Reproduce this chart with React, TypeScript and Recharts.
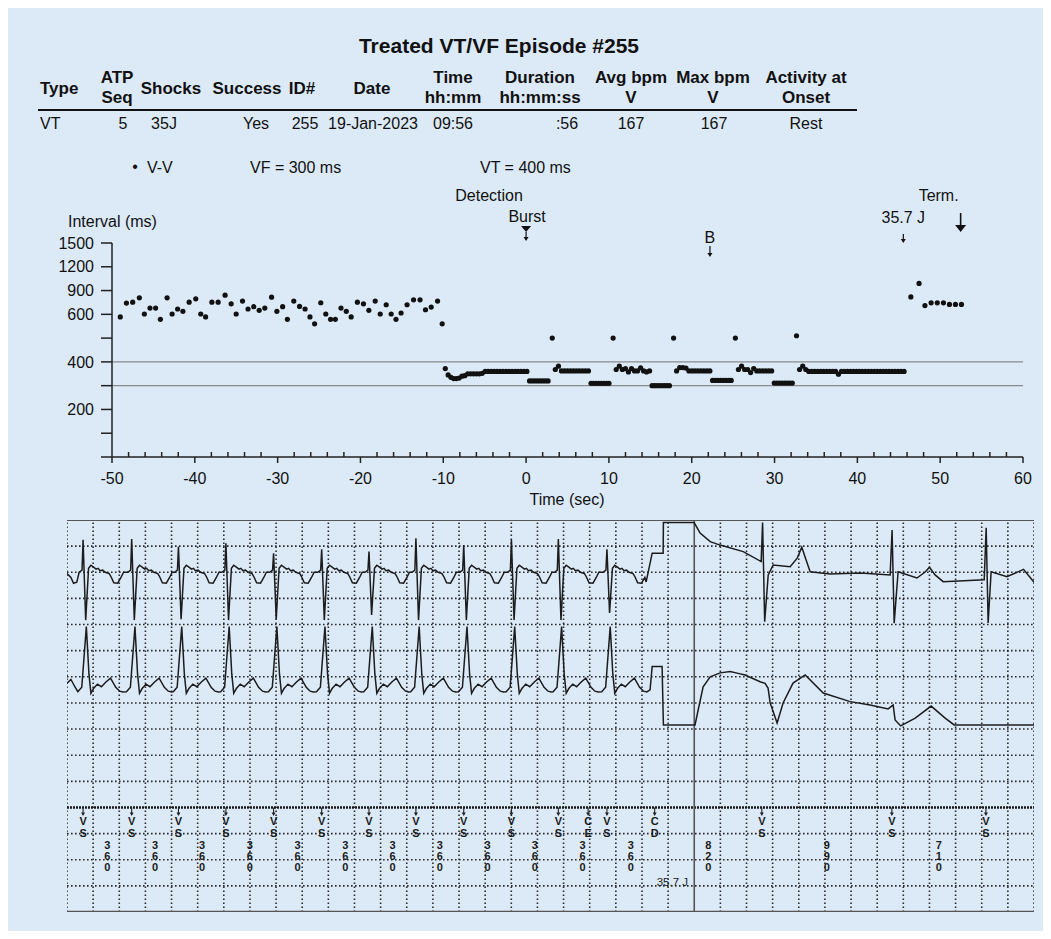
import React from "react";
import {
  ScatterChart,
  Scatter,
  ComposedChart,
  Line,
  XAxis,
  YAxis,
  ReferenceLine
} from "recharts";

const FONT = '"Liberation Sans", Arial, Helvetica, sans-serif';
const PANEL = "#dceaf8";
const INK = "#111";

// ---- episode summary table ----
const headerLine1 = ["", "ATP", "", "", "", "", "Time", "Duration", "Avg bpm", "Max bpm", "Activity at"];
const headerLine2 = ["", "Seq", "", "", "", "", "hh:mm", "hh:mm:ss", "V", "V", "Onset"];
const headerSingle = ["Type", "", "Shocks", "Success", "ID#", "Date", "", "", "", "", ""];
const rowValues = ["VT", "5", "35J", "Yes", "255", "19-Jan-2023", "09:56", ":56", "167", "167", "Rest"];
const headerCenters = [59, 117, 171, 247, 302, 372, 453, 540, 631, 713, 806];
const rowCenters = [52, 123, 164, 256, 305, 373, 453, 567, 631, 714, 806];

// ---- V-V intervals (ms), each one sensed after the previous: first at -49.0 s ----
const firstBeatTime = -49.0;
const vvIntervals = [
  // sinus before onset
  589, 742, 754, 808, 604, 679, 679, 579, 808, 604, 667, 638, 754, 796, 604, 589, 754, 754, 842, 733,
  604, 767, 667, 696, 650, 679, 817, 638, 696, 579, 767, 700, 667, 589, 560, 746, 604, 579, 579, 679,
  638, 589, 754, 733, 650, 767, 604, 721, 604, 579, 617, 721, 783, 783, 658, 692, 767, 560,
  // VT until detection
  372, 345, 335, 330, 330, 332, 340, 342, 350, 350, 350, 350, 350, 352,
  360, 360, 360, 360, 360, 360, 360, 360, 360, 360, 360, 360, 360, 360, 360,
  // burst 1
  320, 320, 320, 320, 320, 320, 320, 320, 500,
  368, 382, 362, 362, 362, 362, 362, 362, 362, 362, 362, 362,
  // burst 2
  310, 310, 310, 310, 310, 310, 310, 310, 500,
  368, 382, 368, 372, 358, 372, 362, 362, 375, 362, 358, 362,
  // burst 3
  300, 300, 300, 300, 300, 300, 300, 300, 500,
  362, 376, 376, 374, 362, 362, 362, 362, 362, 362, 362, 362,
  // burst 4
  322, 322, 322, 322, 322, 322, 322, 322, 500,
  368, 382, 368, 368, 355, 372, 362, 362, 362, 362, 362, 362,
  // burst 5
  311, 311, 311, 311, 311, 311, 311, 311, 510,
  368, 382, 368, 360, 360, 360, 360, 360, 360, 360, 360, 360, 360, 348,
  360, 360, 360, 360, 360, 360, 360, 360, 360, 360, 360,
  360, 360, 360, 360, 360, 360, 360, 360, 360, 360, 360,
  // after the 35.7 J shock
  820, 990, 710, 745, 745, 745, 725, 725, 725
];

const intervalTickValues = [0, 100, 200, 300, 400, 500, 600, 900, 1200, 1500];
const intervalTickLabels = ["", "", "200", "", "400", "", "600", "900", "1200", "1500"];
const zoneLines = [400, 300];

const eventTimes = [0, 22.2, 45.55, 52.47];
const eventKinds = ["detect", "B", "shock", "term"];

// axis above 600 ms is compressed 3:1
const compress = (v: number) => (v <= 600 ? v : 600 + (v - 600) / 3);

const vvPoints: { t: number; y: number }[] = [];
{
  let t = firstBeatTime;
  vvIntervals.forEach((v, i) => {
    if (i > 0) t += v / 1000;
    vvPoints.push({ t, y: compress(v) });
  });
}
const eventPoints = eventTimes.map((t, i) => ({ t, y: 900, kind: eventKinds[i] }));
const timeTicks = Array.from({ length: 56 }, (_, i) => -50 + i * 2);

// ---- stored EGM strip (seconds from strip start; amplitude in grid units) ----
const markerTimes = [0.123, 0.495, 0.853, 1.216, 1.581, 1.949, 2.311, 2.67, 3.036, 3.401, 3.76, 4.132, 4.497, 5.317, 6.312, 7.032];
const markerCodes = ["VS", "VS", "VS", "VS", "VS", "VS", "VS", "VS", "VS", "VS", "VS", "VS", "CD", "VS", "VS", "VS"];
const chargeEnd = { t: 3.988, code: "CE" };
const markerIntervals = ["360", "360", "360", "360", "360", "360", "360", "360", "360", "360", "360", "360", "820", "990", "710"];
const shockTime = 4.497;
const dividerTime = 4.8;

const stripBeats = [0.123, 0.495, 0.853, 1.216, 1.581, 1.949, 2.311, 2.67, 3.036, 3.401, 3.76, 4.132];
const ch1SpikeTop = [14.24, 14.27, 13.98, 14.11, 13.73, 13.88, 13.79, 14.3, 14.04, 14.24, 14.27, 13.88];
const ch1SpikeBottom = [11.17, 11.17, 11.2, 11.17, 11.2, 11.17, 11.37, 11.17, 11.17, 11.17, 11.17, 11.44];

const ch1Lead = [[0, 12.95], [0.03, 12.8], [0.05, 12.58], [0.075, 12.62]];
const ch1BeatPre = [[-0.03, 13.0], [-0.008, 13.08]];
const ch1BeatPost = [
  [0.042, 13.15], [0.06, 13.27], [0.08, 13.2], [0.1, 13.12], [0.115, 13.15], [0.13, 13.06],
  [0.15, 13.08], [0.17, 13.0], [0.2, 12.95], [0.215, 12.82], [0.235, 12.6], [0.265, 12.58],
  [0.29, 12.8], [0.31, 13.0]
];
const ch1Tail = [
  [4.432, 12.63], [4.478, 13.73], [4.562, 13.73], [4.564, 14.9], [4.799, 14.9], [4.845, 14.5],
  [4.922, 14.17], [4.998, 14.04], [5.175, 13.79], [5.312, 13.41], [5.323, 14.9], [5.339, 11.11],
  [5.366, 12.9], [5.404, 13.28], [5.534, 13.21], [5.588, 13.54], [5.623, 13.96], [5.656, 13.47],
  [5.687, 13.02], [5.84, 12.93], [6.07, 12.97], [6.299, 12.9], [6.314, 14.62], [6.33, 11.05],
  [6.36, 13.02], [6.504, 12.78], [6.567, 13.01], [6.6, 13.19], [6.643, 12.9], [6.705, 12.64],
  [7.019, 12.71], [7.034, 14.7], [7.049, 11.06], [7.072, 13.02], [7.193, 12.83], [7.32, 13.11],
  [7.4, 12.62]
];

const ch2Lead = [[0, 8.75], [0.03, 8.9], [0.06, 8.62]];
const ch2Beat = [
  [-0.04, 8.43], [-0.01, 8.6], [0.025, 10.92], [0.045, 9.1], [0.06, 8.37], [0.08, 8.55],
  [0.11, 8.72], [0.14, 8.62], [0.175, 8.8], [0.21, 8.95], [0.25, 8.6], [0.28, 8.45], [0.305, 8.42]
];
const ch2Tail = [
  [4.462, 8.5], [4.478, 9.39], [4.554, 9.39], [4.564, 7.16], [4.806, 7.16], [4.83, 7.73],
  [4.868, 8.62], [4.922, 9.0], [4.998, 9.15], [5.075, 9.2], [5.128, 9.14], [5.189, 9.07],
  [5.304, 8.81], [5.342, 8.75], [5.365, 8.57], [5.381, 8.0], [5.434, 7.23], [5.48, 8.0],
  [5.556, 8.76], [5.649, 9.07], [5.787, 8.38], [5.993, 8.05], [6.146, 7.92], [6.284, 7.77],
  [6.322, 7.92], [6.337, 7.35], [6.38, 7.12], [6.491, 7.42], [6.613, 7.88], [6.72, 7.42],
  [6.789, 7.16], [7.4, 7.16]
];

const ch1Points: { t: number; v: number }[] = ch1Lead.map(([t, v]) => ({ t, v }));
stripBeats.forEach((bt, i) => {
  ch1BeatPre.forEach(([dt, v]) => ch1Points.push({ t: bt + dt, v }));
  ch1Points.push({ t: bt, v: ch1SpikeTop[i] });
  ch1Points.push({ t: bt + 0.02, v: ch1SpikeBottom[i] });
  ch1BeatPost.forEach(([dt, v]) => ch1Points.push({ t: bt + dt, v }));
});
const ch1Data = ch1Points
  .filter((p) => p.t < ch1Tail[0][0])
  .concat(ch1Tail.map(([t, v]) => ({ t, v })));

const ch2Points: { t: number; v: number }[] = ch2Lead.map(([t, v]) => ({ t, v }));
stripBeats.forEach((bt) => {
  ch2Beat.forEach(([dt, v]) => ch2Points.push({ t: bt + dt, v }));
});
const ch2Data = ch2Points
  .filter((p) => p.t < ch2Tail[0][0])
  .concat(ch2Tail.map(([t, v]) => ({ t, v })));

const markerPoints = markerTimes
  .map((t, i) => ({ t, v: 4, code: markerCodes[i] }))
  .concat([{ t: chargeEnd.t, v: 4, code: chargeEnd.code }]);
const intervalPoints = markerIntervals.map((s, i) => ({
  t: (markerTimes[i] + markerTimes[i + 1]) / 2,
  v: 2.15,
  label: s
}));
const shockLabel = [{ t: shockTime, v: 1.15, label: "35.7 J" }];

const vGrid = Array.from({ length: 38 }, (_, i) => Math.round(i * 2) / 10).filter((t) => t !== dividerTime);
const hGrid = [1, 2, 3, 5, 6, 7, 8, 9, 10, 11, 12, 13, 14];

function Txt({ x, y, children, bold = false, size = 16, anchor = "middle" }: any) {
  const tx = anchor === "middle" ? "-50%" : anchor === "end" ? "-100%" : "0";
  return (
    <div
      style={{
        position: "absolute",
        left: x,
        top: y,
        transform: `translate(${tx}, -50%)`,
        fontSize: size,
        fontWeight: bold ? 700 : 400,
        whiteSpace: "nowrap",
        lineHeight: 1,
        color: INK
      }}
    >
      {children}
    </div>
  );
}

function TimeTick({ x, y, payload }: any) {
  const v = payload.value;
  const major = v % 10 === 0;
  return (
    <g>
      {major ? (
        <line x1={x} x2={x} y1={y} y2={y + 6} stroke="#222" strokeWidth={1.5} />
      ) : (
        <line x1={x} x2={x} y1={y - 5} y2={y} stroke="#222" strokeWidth={1.5} />
      )}
      {major && (
        <text x={x} y={y + 27} textAnchor="middle" fontSize={16} fontFamily={FONT} fill={INK}>
          {v}
        </text>
      )}
    </g>
  );
}

function smallArrow(x: number, y1: number, y2: number) {
  return (
    <g>
      <line x1={x} x2={x} y1={y1} y2={y2 - 3} stroke={INK} strokeWidth={1.2} />
      <path d={`M${x - 2.5},${y2 - 4} L${x + 2.5},${y2 - 4} L${x},${y2} Z`} fill={INK} />
    </g>
  );
}

function EventMark({ cx, cy, payload }: any) {
  const t = (x: number, y: number, s: string) => (
    <text x={x} y={y} dy="0.35em" textAnchor="middle" fontSize={16} fontFamily={FONT} fill={INK}>
      {s}
    </text>
  );
  switch (payload.kind) {
    case "detect":
      return (
        <g>
          {t(cx - 37, cy - 48, "Detection")}
          {t(cx + 1, cy - 27, "Burst")}
          <path d={`M${cx - 5},${cy - 17} L${cx + 5},${cy - 17} L${cx},${cy - 11} Z`} fill={INK} />
          {smallArrow(cx, cy - 11, cy - 2)}
        </g>
      );
    case "B":
      return (
        <g>
          {t(cx, cy - 6, "B")}
          {smallArrow(cx, cy + 3, cy + 14)}
        </g>
      );
    case "shock":
      return (
        <g>
          {t(cx, cy - 26, "35.7 J")}
          {smallArrow(cx, cy - 9, cy)}
        </g>
      );
    default:
      return (
        <g>
          {t(cx - 22, cy - 48, "Term.")}
          <line x1={cx} x2={cx} y1={cy - 30} y2={cy - 16} stroke={INK} strokeWidth={1.6} />
          <path d={`M${cx - 5.5},${cy - 18} L${cx + 5.5},${cy - 18} L${cx},${cy - 11} Z`} fill={INK} />
        </g>
      );
  }
}

function MarkerShape({ cx, cy, payload }: any) {
  const [a, b] = payload.code.split("");
  return (
    <g>
      <line x1={cx} x2={cx} y1={cy} y2={cy + 7} stroke="#222" strokeWidth={1.1} />
      <path d={`M${cx - 2},${cy + 5} L${cx + 2},${cy + 5} L${cx},${cy + 8.5} Z`} fill="#222" />
      <text x={cx} y={cy + 18} textAnchor="middle" fontSize={11} fontWeight={700} fontFamily={FONT} fill="#1a1a1a">
        {a}
      </text>
      <text x={cx} y={cy + 29.5} textAnchor="middle" fontSize={11} fontWeight={700} fontFamily={FONT} fill="#1a1a1a">
        {b}
      </text>
    </g>
  );
}

function IntervalShape({ cx, cy, payload }: any) {
  return (
    <g>
      {payload.label.split("").map((d: string, i: number) => (
        <text
          key={i}
          x={cx}
          y={cy + (i - 1) * 11 + 4}
          textAnchor="middle"
          fontSize={11}
          fontWeight={700}
          fontFamily={FONT}
          fill="#1a1a1a"
        >
          {d}
        </text>
      ))}
    </g>
  );
}

function ShockText({ cx, cy, payload }: any) {
  return (
    <text x={cx + 2} y={cy + 4} fontSize={11.5} fontFamily={FONT} fill="#222">
      {payload.label}
    </text>
  );
}

export default function App() {
  return (
    <div
      style={{
        position: "relative",
        width: 1051,
        height: 939,
        margin: -8,
        background: "#fff",
        fontFamily: FONT,
        overflow: "hidden"
      }}
    >
      <div style={{ position: "absolute", left: 4, top: 5, width: 1043, height: 930, background: PANEL }} />

      <Txt x={499} y={45} bold size={21}>
        Treated VT/VF Episode #255
      </Txt>

      {headerSingle.map((s, i) =>
        s ? (
          <Txt key={"s" + i} x={i === 0 ? 40 : headerCenters[i]} y={88} bold size={17} anchor={i === 0 ? "start" : "middle"}>
            {s}
          </Txt>
        ) : null
      )}
      {headerLine1.map((s, i) =>
        s ? (
          <Txt key={"a" + i} x={headerCenters[i]} y={77} bold size={17}>
            {s}
          </Txt>
        ) : null
      )}
      {headerLine2.map((s, i) =>
        s ? (
          <Txt key={"b" + i} x={headerCenters[i]} y={97} bold size={17}>
            {s}
          </Txt>
        ) : null
      )}
      <div style={{ position: "absolute", left: 38, top: 109, width: 819, height: 2, background: "#111" }} />
      {rowValues.map((s, i) => (
        <Txt key={"r" + i} x={i === 0 ? 40 : rowCenters[i]} y={124} size={16} anchor={i === 0 ? "start" : "middle"}>
          {s}
        </Txt>
      ))}

      <Txt x={135} y={167} size={16}>
        •
      </Txt>
      <Txt x={147} y={168} size={16} anchor="start">
        V-V
      </Txt>
      <Txt x={250} y={168} size={16} anchor="start">
        VF = 300 ms
      </Txt>
      <Txt x={480} y={168} size={16} anchor="start">
        VT = 400 ms
      </Txt>
      <Txt x={68} y={222} size={16} anchor="start">
        Interval (ms)
      </Txt>
      <Txt x={567} y={500} size={16}>
        Time (sec)
      </Txt>

      <div style={{ position: "absolute", left: 0, top: 150 }}>
        <ScatterChart width={1051} height={370} margin={{ top: 93, right: 28, bottom: 23, left: 0 }}>
          <XAxis
            type="number"
            dataKey="t"
            domain={[-50, 60]}
            ticks={timeTicks}
            interval={0}
            height={40}
            tickSize={0}
            tickMargin={0}
            tickLine={false}
            axisLine={{ stroke: "#222", strokeWidth: 1.5 }}
            tick={<TimeTick />}
          />
          <YAxis
            type="number"
            dataKey="y"
            domain={[0, 900]}
            ticks={intervalTickValues.map(compress)}
            interval={0}
            width={112}
            tickSize={11}
            tickMargin={7}
            tickFormatter={(v: number) => intervalTickLabels[intervalTickValues.map(compress).indexOf(v)]}
            tick={{ fontSize: 16, fill: INK, fontFamily: FONT }}
            tickLine={{ stroke: "#222", strokeWidth: 1.5 }}
            axisLine={{ stroke: "#222", strokeWidth: 1.5 }}
          />
          {zoneLines.map((v) => (
            <ReferenceLine key={v} y={compress(v)} stroke="#8a8a8a" strokeWidth={1.4} />
          ))}
          <Scatter
            data={vvPoints}
            fill={INK}
            isAnimationActive={false}
            shape={(p: any) => <circle cx={p.cx} cy={p.cy} r={2.6} fill={INK} />}
          />
          <Scatter
            data={eventPoints}
            isAnimationActive={false}
            shape={(p: any) => <EventMark {...p} />}
          />
        </ScatterChart>
      </div>

      <div style={{ position: "absolute", left: 67, top: 520 }}>
        <ComposedChart width={967} height={392} margin={{ top: 0, right: 0, bottom: 0, left: 0 }}>
          <XAxis type="number" dataKey="t" domain={[0, 7.4]} hide allowDataOverflow />
          <YAxis type="number" dataKey="v" domain={[0, 15]} hide />
          {vGrid.map((t) => (
            <ReferenceLine key={"v" + t} x={t} stroke="#2a2a2a" strokeWidth={1.6} strokeDasharray="1.6 2.4" />
          ))}
          {hGrid.map((v) => (
            <ReferenceLine key={"h" + v} y={v} stroke="#2a2a2a" strokeWidth={1.6} strokeDasharray="1.6 2.4" />
          ))}
          <ReferenceLine y={4} stroke="#1a1a1a" strokeWidth={2.6} strokeDasharray="2 1" />
          <ReferenceLine y={15} stroke="#555" strokeWidth={2} />
          <ReferenceLine y={0} stroke="#555" strokeWidth={2.5} />
          <ReferenceLine x={dividerTime} stroke="#555" strokeWidth={1.6} />
          <Line
            data={ch1Data}
            dataKey="v"
            type="linear"
            stroke="#1c1c1c"
            strokeWidth={1.5}
            dot={false}
            isAnimationActive={false}
          />
          <Line
            data={ch2Data}
            dataKey="v"
            type="linear"
            stroke="#1c1c1c"
            strokeWidth={1.5}
            dot={false}
            isAnimationActive={false}
          />
          <Scatter data={markerPoints} isAnimationActive={false} shape={(p: any) => <MarkerShape {...p} />} />
          <Scatter data={intervalPoints} isAnimationActive={false} shape={(p: any) => <IntervalShape {...p} />} />
          <Scatter data={shockLabel} isAnimationActive={false} shape={(p: any) => <ShockText {...p} />} />
        </ComposedChart>
      </div>
    </div>
  );
}
